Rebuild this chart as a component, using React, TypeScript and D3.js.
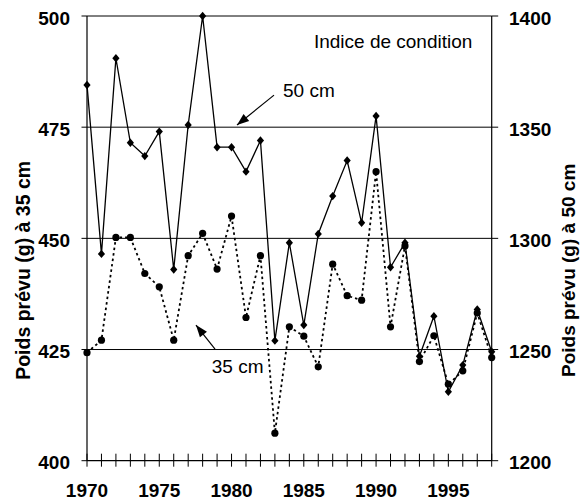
import React from "react";
import * as d3 from "d3";

const years = [1970,1971,1972,1973,1974,1975,1976,1977,1978,1979,1980,1981,1982,1983,1984,1985,1986,1987,1988,1989,1990,1991,1992,1993,1994,1995,1996,1997,1998];
// Poids prévu à 50 cm (right axis)
const poids50 = [1369,1293,1381,1343,1337,1348,1286,1351,1400,1341,1341,1330,1344,1254,1298,1261,1302,1319,1335,1307,1355,1287,1298,1247,1265,1231,1243,1268,1249];
// Poids prévu à 35 cm (left axis)
const poids35 = [424.3,427.1,450.2,450.2,442.1,439.1,427.1,446.1,451.1,443.1,455,432.2,446.1,406.2,430.1,428,421.1,444.2,437.1,436.1,465,430.1,448.3,422.3,428.1,417.2,420.2,433.2,423.2];

const leftTicks = [400, 425, 450, 475, 500];
const rightTicks = [1200, 1250, 1300, 1350, 1400];
const xLabelYears = [1970, 1975, 1980, 1985, 1990, 1995];

const W = 580, H = 503;
const L = 87, R = 491.7, T = 16, B = 460.7;
const FONT = "'Liberation Sans', Arial, Helvetica, sans-serif";

export default function App() {
  const x = d3.scaleLinear().domain([1970, 1998]).range([L, R]);
  const yL = d3.scaleLinear().domain([400, 500]).range([B, T]);
  const yR = d3.scaleLinear().domain([1200, 1400]).range([B, T]);

  const line50 = d3.line<number>().x((_, i) => x(years[i])).y((d) => yR(d));
  const line35 = d3.line<number>().x((_, i) => x(years[i])).y((d) => yL(d));

  // annotation anchors in data space
  const arrow50 = { x1: 1982.94, y1: 482.2, x2: 1980.38, y2: 475.5 };
  const arrow35 = { x1: 1978.86, y1: 425.1, x2: 1977.54, y2: 430.5 };

  const arrowHead = (x1: number, y1: number, x2: number, y2: number) => {
    const ang = Math.atan2(y2 - y1, x2 - x1);
    const len = 12, half = 4.5;
    const bx = x2 - len * Math.cos(ang), by = y2 - len * Math.sin(ang);
    const px = -Math.sin(ang) * half, py = Math.cos(ang) * half;
    return `M${x2},${y2}L${bx + px},${by + py}L${bx - px},${by - py}Z`;
  };

  const a50 = [x(arrow50.x1), yL(arrow50.y1), x(arrow50.x2), yL(arrow50.y2)];
  const a35 = [x(arrow35.x1), yL(arrow35.y1), x(arrow35.x2), yL(arrow35.y2)];

  return (
    <svg width={W} height={H} style={{ position: "absolute", left: 0, top: 0, background: "#fff" }} fontFamily={FONT}>
      <rect x={0} y={0} width={W} height={H} fill="#fff" />
      {/* gridlines */}
      {leftTicks.filter((t) => t !== 400).map((t) => (
        <line key={"g" + t} x1={L} x2={R} y1={yL(t)} y2={yL(t)} stroke="#000" strokeWidth={1} />
      ))}
      {/* axes */}
      <line x1={L} x2={L} y1={T} y2={B} stroke="#000" strokeWidth={1.2} />
      <line x1={R} x2={R} y1={T} y2={B} stroke="#000" strokeWidth={1.2} />
      <line x1={L} x2={R} y1={B} y2={B} stroke="#000" strokeWidth={1.2} />
      {/* left ticks */}
      {leftTicks.map((t) => (
        <g key={"l" + t}>
          <line x1={L - 5.5} x2={L} y1={yL(t)} y2={yL(t)} stroke="#000" strokeWidth={1} />
          <text x={70} y={yL(t)} dy="0.45em" textAnchor="end" fontSize={19} fontWeight="bold">{t}</text>
        </g>
      ))}
      {/* right ticks */}
      {rightTicks.map((t) => (
        <g key={"r" + t}>
          <line x1={R} x2={R + 6.5} y1={yR(t)} y2={yR(t)} stroke="#000" strokeWidth={1} />
          <text x={509} y={yR(t)} dy="0.45em" textAnchor="start" fontSize={19} fontWeight="bold">{t}</text>
        </g>
      ))}
      {/* x ticks */}
      {years.map((yr) => (
        <line key={"x" + yr} x1={x(yr)} x2={x(yr)} y1={B - 7} y2={B + 6} stroke="#000" strokeWidth={1} />
      ))}
      {xLabelYears.map((yr) => (
        <text key={"xl" + yr} x={x(yr)} y={497} textAnchor="middle" fontSize={19} fontWeight="bold">{yr}</text>
      ))}
      {/* axis titles */}
      <text transform={`translate(29.5,${(T + B) / 2 + 32}) rotate(-90)`} textAnchor="middle" fontSize={19.5} fontWeight="bold">Poids prévu (g) à 35 cm</text>
      <text transform={`translate(575,${(T + B) / 2 + 32}) rotate(-90)`} textAnchor="middle" fontSize={19} fontWeight="bold">Poids prévu (g) à  50 cm</text>

      {/* 35 cm series: dotted with circles */}
      <path d={line35(poids35) || ""} fill="none" stroke="#000" strokeWidth={1.8} strokeDasharray="2.5 3" />
      {poids35.map((v, i) => (
        <circle key={"c" + i} cx={x(years[i])} cy={yL(v)} r={3.6} fill="#000" />
      ))}
      {/* 50 cm series: solid with diamonds */}
      <path d={line50(poids50) || ""} fill="none" stroke="#000" strokeWidth={1.3} />
      {poids50.map((v, i) => (
        <path key={"d" + i} transform={`translate(${x(years[i])},${yR(v)})`} d="M0,-4.2L3.6,0L0,4.2L-3.6,0Z" fill="#000" />
      ))}

      {/* annotations */}
      <text x={x(1985.7)} y={yL(492.7)} fontSize={19}>Indice de condition</text>
      <text x={x(1983.56)} y={yL(481.8)} fontSize={19}>50 cm</text>
      <line x1={a50[0]} y1={a50[1]} x2={a50[2]} y2={a50[3]} stroke="#000" strokeWidth={1.2} />
      <path d={arrowHead(a50[0], a50[1], a50[2], a50[3])} fill="#000" />
      <text x={x(1978.63)} y={yL(419.7)} fontSize={19}>35 cm</text>
      <line x1={a35[0]} y1={a35[1]} x2={a35[2]} y2={a35[3]} stroke="#000" strokeWidth={1.2} />
      <path d={arrowHead(a35[0], a35[1], a35[2], a35[3])} fill="#000" />
    </svg>
  );
}
